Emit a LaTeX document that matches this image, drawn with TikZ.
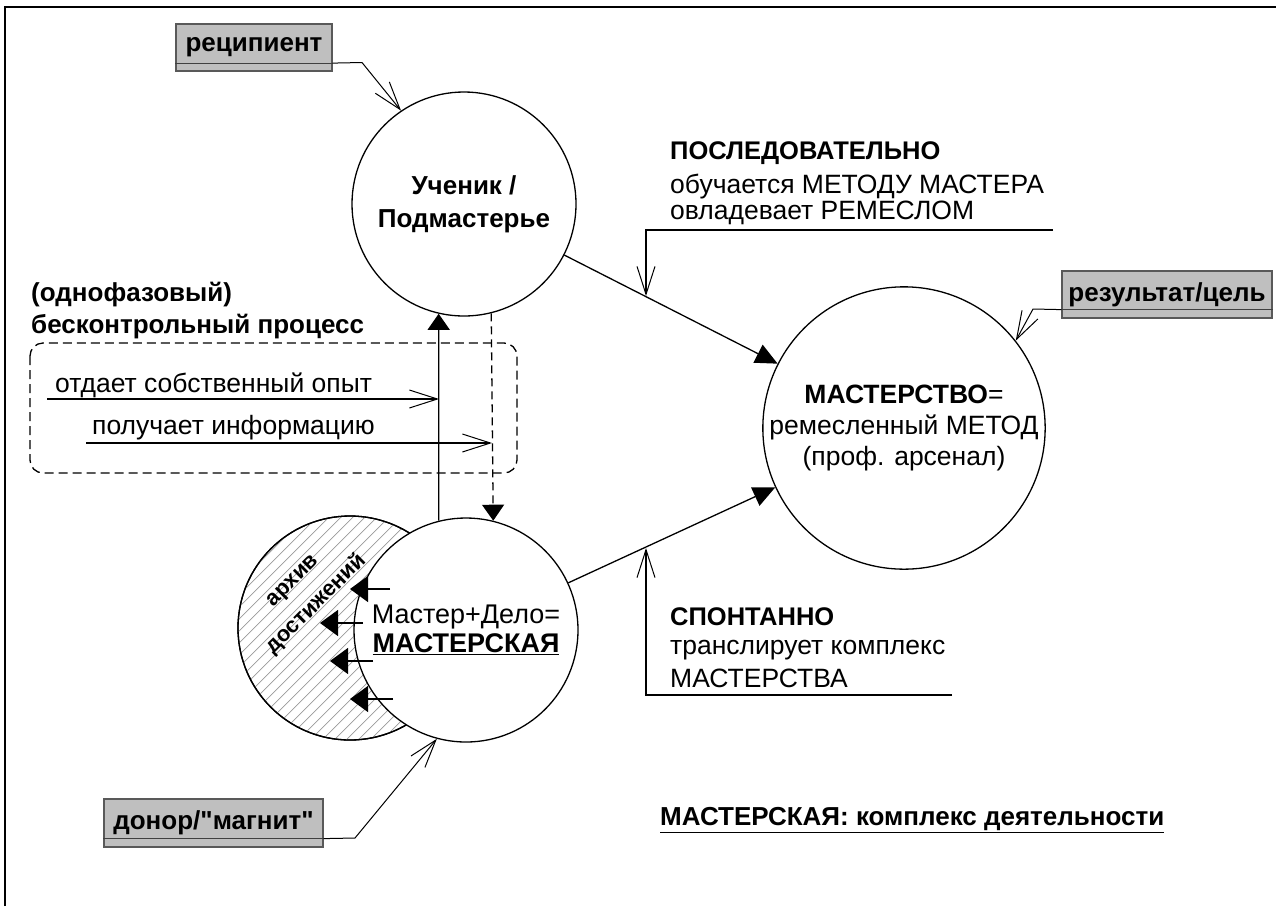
\documentclass[tikz,border=0pt]{standalone}
\usepackage{fontspec}
\setmainfont{Liberation Sans}
\usetikzlibrary{arrows.meta}
\begin{document}
\begin{tikzpicture}[x=1pt,y=-1pt,
  txt/.style={font=\fontsize{26.5}{31}\selectfont, inner sep=0pt},
  btxt/.style={font=\fontsize{26}{31}\selectfont\bfseries, inner sep=0pt},
  ttxt/.style={font=\fontsize{25.5}{31}\selectfont\bfseries, inner sep=0pt},
  circ/.style={circle, draw, line width=1.3pt, minimum size=224pt, inner sep=0pt},
  lbl/.style={draw=black!65, fill=black!25, line width=1.2pt, inner sep=0pt, font=\fontsize{26}{30}\selectfont\bfseries},
  conn/.style={line width=1.3pt},
  fine/.style={line width=1pt},
  barb/.style={-{Straight Barb[length=28pt,width=18pt,line width=1pt]}},
  tri/.style={-{Triangle[length=22pt,width=20pt]}},
  hatch/.style={draw=black!40, line width=0.7pt},
]
\useasboundingbox (0,0) rectangle (1276,906);
% frame
\draw[line width=2.5pt] (5,906) -- (5,7) -- (1276,7);

% label boxes
\node[lbl, minimum width=156pt, minimum height=47pt] (rec) at (254,47.5) {\raisebox{4pt}{реципиент}};
\draw[line width=1.2pt, black!75] ([yshift=8.5pt]rec.south west) -- ([yshift=8.5pt]rec.south east);
\node[lbl, minimum width=210pt, minimum height=47pt] (res) at (1167,294.5) {\raisebox{4pt}{результат/цель}};
\draw[line width=1.2pt, black!75] ([yshift=9pt]res.south west) -- ([yshift=9pt]res.south east);
\node[lbl, minimum width=219pt, minimum height=48pt] (don) at (213.5,823) {\raisebox{4pt}{донор/\textquotedbl магнит\textquotedbl}};
\draw[line width=1.2pt, black!75] ([yshift=9pt]don.south west) -- ([yshift=9pt]don.south east);

% circles
\node[circ, font=\fontsize{26}{33}\selectfont\bfseries, align=center] (c1) at (464,204) {Ученик /\\Подмастерье};
\node[circ, font=\fontsize{26.5}{31}\selectfont, align=center] (mast) at (904,428) {\textbf{МАСТЕРСТВО}=\\ремесленный МЕТОД\\(проф. арсенал)};

% archive circle with hatching
\node[circ] (arch) at (350,628) {};
\begin{scope}
  \clip (350,628) circle[radius=112pt];
  \foreach \k in {-252,-240,...,252}
    \draw[hatch] (350+\k-130,628+130) -- (350+\k+130,628-130);
\end{scope}
\node[circ] at (arch) {};

% master circle
\node[circ, fill=white, font=\fontsize{27}{29}\selectfont, align=center] (m) at (466,630) {Мастер+Дело=\\\underline{\textbf{МАСТЕРСКАЯ}}};

\node[btxt, rotate=45, font=\fontsize{22}{26}\selectfont\bfseries] (ar1) at (294,582) {архив};
\node[btxt, rotate=45, font=\fontsize{22}{26}\selectfont\bfseries] (ar2) at (316,604) {достижений};

% arrows into archive
\coordinate (a1s) at (390,589); \coordinate (a1e) at (350,589);
\coordinate (a2s) at (363,623); \coordinate (a2e) at (320,623);
\coordinate (a3s) at (373,661); \coordinate (a3e) at (330,661);
\coordinate (a4s) at (393,699); \coordinate (a4e) at (350,699);
\foreach \i in {1,2,3,4}
  \draw[conn, -{Triangle[length=18pt,width=26pt]}] (a\i s) -- (a\i e);

% vertical arrows between Ученик and Мастерская
\draw[conn, -{Triangle[length=16pt,width=22pt]}] (m.104) -- (c1.257);
\draw[conn, -{Triangle[length=16pt,width=22pt]}, dash pattern=on 8pt off 5pt] (c1.284.5) -- (m.76.6);

% dashed process box
\draw[conn, dash pattern=on 9pt off 5pt, rounded corners=13pt] (30,343) rectangle (517,473);
\node[btxt, anchor=west] (od1) at (31,295) {(однофазовый)};
\node[btxt, anchor=west] (od2) at (31,327) {бесконтрольный процесс};
\node[txt, anchor=west] (gv1) at (55,385) {отдает собственный опыт};
\node[txt, anchor=west] (gv2) at (92,428) {получает информацию};
\coordinate (g1s) at (47,399); \coordinate (g1e) at (439,399);
\coordinate (g2s) at (86,443); \coordinate (g2e) at (492,443);
\draw[conn, barb] (g1s) -- (g1e);
\draw[conn, barb] (g2s) -- (g2e);

% main connectors
\draw[conn, tri] (c1) -- (mast);
\draw[conn, tri] (m) -- (mast);

% callouts
\node[ttxt, anchor=west] (p1) at (670,153) {ПОСЛЕДОВАТЕЛЬНО};
\node[txt, anchor=west] (p2) at (670,187) {обучается МЕТОДУ МАСТЕРА};
\node[txt, anchor=west] (p3) at (670,213) {овладевает РЕМЕСЛОМ};
\coordinate (pc1) at (1053,230); \coordinate (pc2) at (646,230); \coordinate (pc3) at (646,296);
\draw[conn, barb] (pc1) -- (pc2) -- (pc3);

\node[ttxt, anchor=west] (s1) at (670,617) {СПОНТАННО};
\node[txt, anchor=west] (s2) at (670,650) {транслирует комплекс};
\node[txt, anchor=west] (s3) at (670,678) {МАСТЕРСТВА};
\coordinate (sc1) at (952,695); \coordinate (sc2) at (646,695); \coordinate (sc3) at (646,548);
\draw[conn, barb] (sc1) -- (sc2) -- (sc3);

% label connectors
\coordinate (rk) at (362,62.5);
\draw[fine, barb] ([yshift=8.5pt]rec.south east) -- (rk) -- (c1.124);
\coordinate (sk) at (1033,309);
\draw[fine, barb] ([yshift=9pt]res.south west) -- (sk) -- (mast.38);
\coordinate (dk) at (355,838);
\draw[fine, barb] ([yshift=9pt]don.south east) -- (dk) -- (m.255);

% bottom title
\node[btxt, anchor=west] (ttl) at (660,820) {\underline{МАСТЕРСКАЯ: комплекс деятельности}};
\end{tikzpicture}
\end{document}
